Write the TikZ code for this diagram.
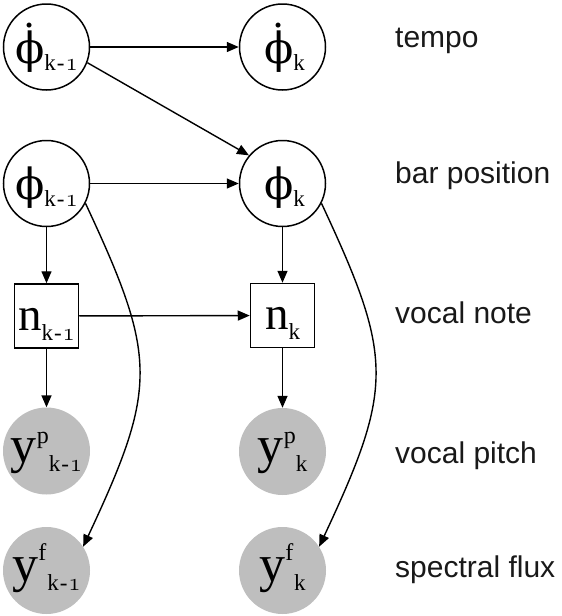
\documentclass[tikz,border=0pt]{standalone}
\usepackage{fontspec}
\setmainfont{Liberation Serif}
\usetikzlibrary{arrows.meta}
\newfontfamily\phifont{DejaVu Serif}
\newfontfamily\labfont{Liberation Sans}
\definecolor{obsgray}{HTML}{BEBEBE}
\newcommand{\oldone}{\ensuremath{\mathnormal{1}}}
\newcommand{\subtxt}[1]{{\fontsize{23}{23}\selectfont #1}}
\newcommand{\bigphi}{{\fontsize{43}{43}\phifont ϕ}}
\newcommand{\dotphi}{\setbox0\hbox{\bigphi}\rlap{\hbox to\wd0{\hss\raisebox{\dimexpr\ht0+2.5pt\relax}{\fontsize{38}{38}\phifont .}\hss}}\box0}
\newcommand{\km}{k\kern1pt-\kern1pt\oldone}
\begin{document}
\begin{tikzpicture}[x=1pt,y=-1pt,
  var/.style={circle,draw,line width=1.5pt,minimum size=86pt,inner sep=0pt},
  obs/.style={circle,fill=obsgray,minimum size=87pt,inner sep=0pt,text height=30pt,text depth=8pt},
  phinode/.style={var,text height=40pt,text depth=8pt},
  notebox/.style={rectangle,draw,line width=1.5pt,minimum width=64pt,minimum height=64pt,inner sep=0pt,text height=36pt,text depth=8pt},
  lab/.style={anchor=base west,inner sep=0pt,font=\labfont\fontsize{30}{30}\selectfont,text=black!90},
  arr/.style={line width=1.4pt,-{Triangle[length=12pt,width=10pt]}}]
\useasboundingbox (0,0) rectangle (562,616);
% nodes
\node[phinode] (t1) at (46.5,47) {\dotphi\raisebox{-7pt}{\subtxt{\km}}\hspace{8pt}};
\node[phinode] (t2) at (282.5,47) {\hspace{4pt}\dotphi\raisebox{-7pt}{\subtxt{k}}};
\node[phinode] (b1) at (46.5,183.5) {\bigphi\raisebox{-7pt}{\subtxt{\km}}\hspace{8pt}};
\node[phinode] (b2) at (282.5,183.5) {\hspace{4pt}\bigphi\raisebox{-7pt}{\subtxt{k}}};
\node[notebox] (n1) at (46.5,316) {{\fontsize{47}{47}\selectfont n}\raisebox{-10pt}{\subtxt{\km}}};
\node[notebox] (n2) at (282.5,315.5) {{\fontsize{47}{47}\selectfont n}\raisebox{-10pt}{\subtxt{k}}};
\node[obs] (p1) at (46.5,451) {{\fontsize{52}{52}\selectfont y}\raisebox{19pt}{\fontsize{24}{24}\selectfont p}\raisebox{-9pt}{\subtxt{\km}}\hspace{4pt}};
\node[obs] (p2) at (282.5,451.5) {{\fontsize{52}{52}\selectfont y}\raisebox{19pt}{\fontsize{24}{24}\selectfont p}\raisebox{-9pt}{\subtxt{k}}};
\node[obs] (f1) at (46.5,570.5) {{\fontsize{52}{52}\selectfont y}\raisebox{21pt}{\fontsize{24}{24}\selectfont f}\raisebox{-9pt}{\hspace{1pt}\subtxt{\km}}\hspace{4pt}};
\node[obs] (f2) at (282.5,570.5) {{\fontsize{52}{52}\selectfont y}\raisebox{21pt}{\fontsize{24}{24}\selectfont f}\raisebox{-9pt}{\hspace{1pt}\subtxt{k}}};
% labels
\node[lab] (l1) at (395,47) {tempo};
\node[lab] (l2) at (395,183) {bar position};
\node[lab] (l3) at (395,323) {vocal note};
\node[lab] (l4) at (395,463) {vocal pitch};
\node[lab] (l5) at (395,577) {spectral flux};
% edges
\draw[arr] (t1) -- (t2);
\draw[arr] (t1.-21) -- (b2.140);
\draw[arr] (b1) -- (b2);
\draw[arr] (b1) -- (n1);
\draw[arr] (b2) -- (n2);
\draw[arr] (n1) -- (n2);
\draw[arr] (n1) -- (p1);
\draw[arr] (n2) -- (p2);
\draw[arr] (b1.-27) .. controls +(72,154) and +(75,-160) .. (f1.33);
\draw[arr] (b2.-27) .. controls +(72,154) and +(75,-160) .. (f2.33);
\end{tikzpicture}
\end{document}
